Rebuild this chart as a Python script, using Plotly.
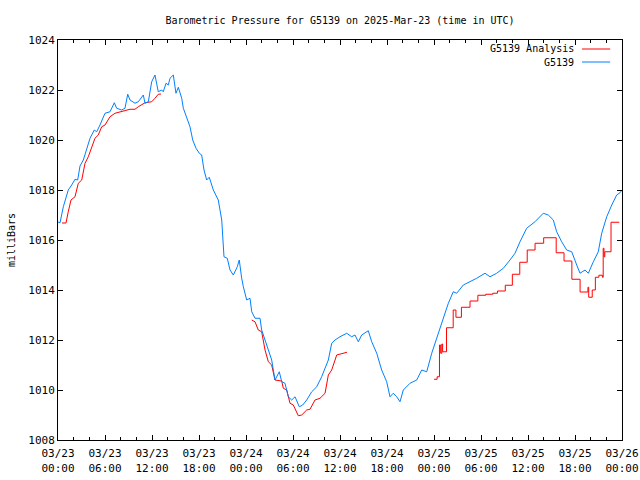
import pandas as pd
import plotly.graph_objects as go

START = pd.Timestamp("2025-03-23 00:00")

# G5139 observed pressure (hours since 03/23 00:00 UTC, mb)
obs_hours = [0.0, 0.26, 0.68, 1.31, 1.75, 2.17, 2.51, 2.81, 3.23, 3.66, 4.09, 4.63, 4.94, 5.36, 5.78,
             6.0, 6.64, 7.19, 7.49, 8.13, 8.55, 8.9, 9.19, 9.83, 10.25, 10.89, 11.11, 11.53, 11.96,
             12.38, 12.8, 13.24, 13.44, 13.79, 14.08, 14.3, 14.72, 15.06, 15.36, 15.79, 16.0, 16.43,
             16.85, 17.2, 17.62, 18.04, 18.34, 18.64, 18.98, 19.31, 19.83, 20.46, 20.9, 21.19, 21.61,
             21.96, 22.38, 22.89, 23.14, 23.45, 23.66, 24.09, 24.51, 24.73, 25.15, 25.79, 26.0, 26.43,
             26.85, 27.28, 27.7, 28.25, 28.56, 28.98, 29.4, 29.83, 30.26, 30.8, 31.24, 31.75, 32.39,
             33.03, 33.66, 34.09, 34.51, 34.94, 35.36, 36.0, 36.86, 37.49, 37.91, 38.34, 38.77, 39.61,
             40.05, 40.69, 41.32, 41.96, 42.38, 42.8, 43.24, 43.66, 44.08, 44.94, 45.79, 46.43, 47.07,
             47.71, 48.34, 48.77, 49.4, 49.83, 50.46, 50.9, 51.74, 52.6, 53.45, 54.51, 55.15, 56.0,
             56.85, 57.7, 58.34, 58.98, 59.83, 60.89, 61.95, 62.59, 63.23, 63.66, 64.3, 64.94, 65.58,
             66.22, 66.64, 67.28, 67.7, 68.34, 68.97, 69.41, 70.05, 70.69, 71.32, 71.74, 72.0]
obs_mb = [1016.72, 1016.69, 1017.33, 1018.0, 1018.2, 1018.43, 1018.4, 1018.96, 1019.2, 1019.6, 1020.07,
          1020.4, 1020.33, 1020.6, 1020.87, 1021.07, 1021.13, 1021.49, 1021.27, 1021.2, 1021.27, 1021.83,
          1021.6, 1021.47, 1021.53, 1021.8, 1021.47, 1021.53, 1022.33, 1022.6, 1021.93, 1022.0, 1021.93,
          1022.27, 1022.2, 1022.47, 1022.6, 1021.87, 1022.11, 1021.67, 1021.27, 1020.93, 1020.53, 1020.0,
          1019.67, 1019.47, 1019.4, 1018.8, 1018.4, 1018.51, 1018.0, 1017.6, 1016.8, 1015.33, 1015.27,
          1014.8, 1014.6, 1014.93, 1015.2, 1014.47, 1014.13, 1013.6, 1013.67, 1013.13, 1012.87, 1012.87,
          1012.4, 1012.0, 1011.6, 1011.2, 1010.4, 1010.73, 1010.33, 1010.27, 1009.73, 1009.6, 1009.73,
          1009.33, 1009.4, 1009.6, 1009.93, 1010.13, 1010.53, 1010.87, 1011.2, 1011.87, 1012.0, 1012.13,
          1012.27, 1012.13, 1012.2, 1011.93, 1012.2, 1012.37, 1011.93, 1011.47, 1010.8, 1010.33, 1009.73,
          1009.87, 1009.73, 1009.53, 1010.0, 1010.27, 1010.4, 1010.8, 1010.73, 1011.47, 1012.07, 1012.4,
          1013.07, 1013.47, 1013.93, 1013.87, 1014.2, 1014.33, 1014.47, 1014.67, 1014.53, 1014.67,
          1014.87, 1015.2, 1015.47, 1015.93, 1016.47, 1016.73, 1017.07, 1017.0, 1016.8, 1016.33, 1015.93,
          1015.6, 1015.53, 1015.0, 1014.67, 1014.8, 1014.67, 1015.13, 1015.53, 1016.27, 1016.93, 1017.4,
          1017.8, 1017.89, 1018.0]

# G5139 Analysis, three runs
ana1_hours = [0.51, 1.02, 1.31, 1.66, 2.17, 2.59, 3.03, 3.45, 3.87, 4.3, 4.72, 5.14, 5.58, 6.0, 6.64,
              7.28, 7.91, 8.55, 9.19, 9.83, 10.25, 11.11, 11.96, 12.38, 12.8, 13.15]
ana1_mb = [1016.68, 1016.68, 1017.13, 1017.6, 1017.73, 1018.27, 1018.4, 1019.07, 1019.33, 1019.73,
           1020.07, 1020.2, 1020.53, 1020.6, 1020.93, 1021.07, 1021.13, 1021.17, 1021.23, 1021.23,
           1021.33, 1021.49, 1021.53, 1021.67, 1021.83, 1021.84]
ana2_hours = [24.73, 25.15, 25.57, 26.0, 26.43, 26.85, 27.28, 27.7, 28.56, 28.76, 29.2, 29.62, 30.04,
              30.68, 31.11, 31.75, 32.17, 32.81, 33.45, 34.09, 34.51, 34.94, 35.58, 36.42, 36.89]
ana2_mb = [1012.8, 1012.73, 1012.4, 1012.33, 1011.6, 1011.13, 1011.0, 1010.4, 1010.36, 1010.07, 1010.0,
           1009.47, 1009.4, 1008.97, 1009.0, 1009.2, 1009.23, 1009.6, 1009.67, 1009.87, 1010.6, 1010.8,
           1011.4, 1011.49, 1011.51]
ana3_hours = [48.0, 48.4, 48.7, 48.85, 49.0, 49.1, 49.6, 50.45, 50.8, 51.5, 52.6, 53.6, 54.6, 55.5, 56.1,
              57.1, 58.0, 58.95, 59.9, 60.9, 62.0, 63.6, 64.6, 65.6, 66.65, 67.65, 67.75, 68.2, 68.6,
              69.05, 69.5, 69.6, 69.7, 69.8, 70.6, 71.65]
ana3_mb = [1010.43, 1010.53, 1011.8, 1011.47, 1011.84, 1011.53, 1012.49, 1013.2, 1012.91, 1013.31,
           1013.56, 1013.79, 1013.83, 1013.87, 1013.96, 1014.19, 1014.63, 1015.11, 1015.6, 1015.87,
           1016.09, 1015.49, 1015.16, 1014.43, 1013.92, 1014.11, 1013.71, 1014.0, 1014.51, 1014.59,
           1014.51, 1015.67, 1015.33, 1015.53, 1016.71, 1016.71]

y_ticks = [1008, 1010, 1012, 1014, 1016, 1018, 1020, 1022, 1024]

RED = "#ff0000"
BLUE = "#0080ff"
FONT = "DejaVu Sans Mono"

W, H = 640, 480


def to_time(hours):
    return [START + pd.Timedelta(hours=h) for h in hours]


fig = go.Figure()
for hh, vv, shape in [(ana1_hours, ana1_mb, "linear"), (ana2_hours, ana2_mb, "linear"),
                      (ana3_hours, ana3_mb, "hv")]:
    fig.add_trace(go.Scatter(x=to_time(hh), y=vv, mode="lines", name="G5139 Analysis",
                             line=dict(color=RED, width=1, shape=shape), showlegend=False))
fig.add_trace(go.Scatter(x=to_time(obs_hours), y=obs_mb, mode="lines", name="G5139",
                         line=dict(color=BLUE, width=1), showlegend=False))

# legend drawn gnuplot-style: text right-aligned, key line on the right
for text, color, yp in [("G5139 Analysis", RED, 0.9775), ("G5139", BLUE, 0.945)]:
    fig.add_annotation(x=0.919, y=yp, xref="paper", yref="paper", text=text, showarrow=False,
                       xanchor="right", yanchor="middle", font=dict(family=FONT, size=10, color="black"))
    fig.add_shape(type="line", xref="paper", yref="paper", x0=0.929, x1=0.979, y0=yp, y1=yp,
                  line=dict(color=color, width=1))

fig.update_layout(
    width=W, height=H,
    margin=dict(l=58, r=18, t=40, b=40),
    paper_bgcolor="white", plot_bgcolor="white",
    font=dict(family=FONT, size=10, color="black"),
    title=dict(text="Barometric Pressure for G5139 on 2025-Mar-23 (time in UTC)",
               x=340 / W, xanchor="center", y=1 - 20 / H, yanchor="middle",
               font=dict(family=FONT, size=10, color="black")),
    showlegend=False,
)
fig.update_xaxes(
    type="date", range=[START, START + pd.Timedelta(hours=72)], automargin=False,
    dtick=6 * 3600 * 1000, tick0=START, tickformat="%m/%d<br>%H:%M",
    ticks="inside", ticklen=5, tickcolor="black", mirror="ticks",
    showline=True, linecolor="black", linewidth=1, showgrid=False, zeroline=False,
    minor=dict(dtick=2 * 3600 * 1000, ticks="inside", ticklen=3, tickcolor="black", showgrid=False),
    tickfont=dict(family=FONT, size=11, color="black"),
    ticklabeloverflow="allow", ticklabelstandoff=3,
)
fig.update_yaxes(
    range=[1008, 1024], tickvals=y_ticks, ticktext=[str(v) for v in y_ticks], automargin=False,
    ticks="inside", ticklen=5, tickcolor="black", mirror="ticks",
    showline=True, linecolor="black", linewidth=1, showgrid=False, zeroline=False,
    title=dict(text="milliBars", standoff=10, font=dict(family=FONT, size=10, color="black")),
    tickfont=dict(family=FONT, size=11, color="black"),
)

fig.write_html("out.html", config={"displayModeBar": False, "staticPlot": True},
               post_script="document.body.style.margin='0';document.body.style.overflow='hidden';")
